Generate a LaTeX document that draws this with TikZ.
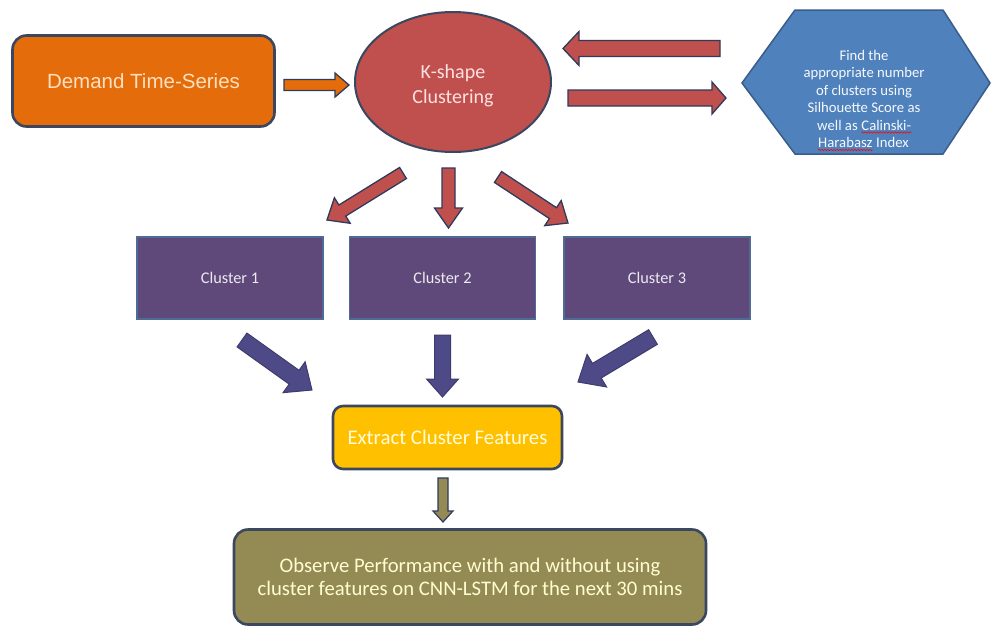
\documentclass[tikz,border=0pt]{standalone}
\usepackage{fontspec}
\setmainfont{Carlito}
\newfontfamily\arialfont{Liberation Sans}
\usetikzlibrary{calc,shapes.geometric,decorations.pathmorphing}
\definecolor{edgedark}{HTML}{3B4760}
\definecolor{arrowedge}{HTML}{2F3B5C}
\definecolor{demandorange}{HTML}{E46C0A}
\definecolor{kred}{HTML}{C0504D}
\definecolor{hexblue}{HTML}{4F81BD}
\definecolor{hexedge}{HTML}{385D8A}
\definecolor{clpurple}{HTML}{5F497A}
\definecolor{cledge}{HTML}{4F6A94}
\definecolor{bluearrow}{HTML}{4E4A88}
\definecolor{featyellow}{HTML}{FFC000}
\definecolor{olive}{HTML}{948A54}
\newcommand{\blockarrow}[6]{%
  \coordinate (bah) at ($(#3)!#6!(#2)$);
  \draw[#1] ($(#2)!#4!90:(#3)$) -- ($(bah)!#4!90:(#3)$) -- ($(bah)!#5!90:(#3)$)
    -- (#3) -- ($(bah)!#5!-90:(#3)$) -- ($(bah)!#4!-90:(#3)$) -- ($(#2)!#4!-90:(#3)$) -- cycle;
}
\tikzset{
  roundbox/.style={draw=edgedark, line width=2.6pt, rounded corners=14pt, inner sep=0pt},
  clusterbox/.style={draw=cledge, line width=1.2pt, fill=clpurple, minimum width=186pt,
    minimum height=82pt, inner sep=0pt, text=white!88!clpurple, font=\fontsize{16.3}{19}\selectfont},
  hexline/.style={inner sep=0pt, anchor=base, text=white!95!hexblue, font=\fontsize{14.7}{17.5}\selectfont},
  spellwave/.style={draw=red, line width=0.6pt, decorate, decoration={snake, segment length=3pt, amplitude=0.7pt}},
  redarrow/.style={fill=kred, draw=arrowedge, line width=1.3pt, line join=miter},
  bluearr/.style={fill=bluearrow, draw=bluearrow!80!black, line width=1pt, line join=miter},
  orangearr/.style={fill=demandorange, draw=arrowedge, line width=1.3pt, line join=miter},
  olivearr/.style={fill=olive, draw=arrowedge, line width=1.2pt, line join=miter},
}
\begin{document}
\begin{tikzpicture}[x=1pt,y=-1pt]
\useasboundingbox[fill=white] (0,0) rectangle (993,627);

% Demand time-series
\node[roundbox, fill=demandorange, minimum width=262pt, minimum height=91pt,
  text=orange!25!white, font=\arialfont\fontsize{20.5}{24}\selectfont] (demand) at (143.5,81) {Demand Time-Series};

% K-shape ellipse
\node[ellipse, draw=edgedark, line width=2pt, fill=kred, minimum width=196pt, minimum height=140pt,
  inner sep=0pt] (kshape) at (453,82) {};
\node[align=center, inner sep=0pt, text=red!12!white, font=\fontsize{20}{25}\selectfont] (kshapetext) at (453,86) {K-shape\\Clustering};

% Hexagon
\coordinate (hx1) at (742,83);
\coordinate (hx2) at (795,10);
\coordinate (hx3) at (943,10);
\coordinate (hx4) at (990,83);
\coordinate (hx5) at (943,154);
\coordinate (hx6) at (795,154);
\draw[fill=hexblue, draw=hexedge, line width=1.5pt] (hx1) -- (hx2) -- (hx3) -- (hx4) -- (hx5) -- (hx6) -- cycle;
\node[hexline] (hl1) at (864,60) {Find the};
\node[hexline] (hl2) at (864,77.5) {appropriate number};
\node[hexline] (hl3) at (864,95) {of clusters using};
\node[hexline] (hl4) at (864,112.5) {Silhouette Score as};
\node[hexline, anchor=base west] (hl5a) at (817,130) {well as};
\node[hexline, anchor=base west] (hl5b) at ([xshift=3.3pt]hl5a.base east) {Calinski-};
\node[hexline, anchor=base west] (hl6a) at (818,147.5) {Harabasz};
\node[hexline, anchor=base west] (hl6b) at ([xshift=3.3pt]hl6a.base east) {Index};
\draw[spellwave] ($(hl5b.base west)+(0,2.5)$) -- ($(hl5b.base east)+(0,2.5)$);
\draw[spellwave] ($(hl6a.base west)+(0,2.5)$) -- ($(hl6a.base east)+(0,2.5)$);

% Clusters
\node[clusterbox] (c1) at (230,278) {Cluster 1};
\node[clusterbox] (c2) at (442.5,278) {Cluster 2};
\node[clusterbox] (c3) at (657,278) {Cluster 3};

% Extract cluster features
\node[roundbox, rounded corners=10pt, fill=featyellow, minimum width=229pt, minimum height=63pt,
  text=yellow!15!white, font=\fontsize{20.8}{24}\selectfont] (feat) at (447.5,437.5) {Extract Cluster Features};

% Observe performance
\node[roundbox, fill=olive, minimum width=472pt, minimum height=95pt, align=center,
  text=yellow!18!white, font=\fontsize{20.7}{23.5}\selectfont] (obs) at (470,577)
  {Observe Performance with and without using\\cluster features on CNN-LSTM for the next 30 mins};

% Arrow end points
\coordinate (oa1) at (284,85);   \coordinate (oa2) at (349,85);
\coordinate (la1) at (720,48.5); \coordinate (la2) at (563,48.5);
\coordinate (ra1) at (568,98);   \coordinate (ra2) at (726,98);
\coordinate (r1a) at (403,173);  \coordinate (r1b) at (327,220);
\coordinate (r2a) at (448.5,168);\coordinate (r2b) at (448.5,228);
\coordinate (r3a) at (498,177);  \coordinate (r3b) at (568,223);
\coordinate (b1a) at (242,340);  \coordinate (b1b) at (312,390);
\coordinate (b2a) at (442.5,335);\coordinate (b2b) at (442.5,397);
\coordinate (b3a) at (653,337);  \coordinate (b3b) at (578,382);
\coordinate (ga) at (443,478);   \coordinate (gb) at (443,522);

\blockarrow{orangearr}{oa1}{oa2}{5.5pt}{12pt}{14pt}
\blockarrow{redarrow}{la1}{la2}{8pt}{17pt}{16pt}
\blockarrow{redarrow}{ra1}{ra2}{8pt}{16pt}{14pt}
\blockarrow{redarrow}{r1a}{r1b}{6.5pt}{15pt}{18pt}
\blockarrow{redarrow}{r2a}{r2b}{6.5pt}{14pt}{20pt}
\blockarrow{redarrow}{r3a}{r3b}{6.5pt}{15pt}{18pt}
\blockarrow{bluearr}{b1a}{b1b}{8.5pt}{19pt}{22pt}
\blockarrow{bluearr}{b2a}{b2b}{8pt}{16pt}{18pt}
\blockarrow{bluearr}{b3a}{b3b}{8.5pt}{19pt}{22pt}
\blockarrow{olivearr}{ga}{gb}{5pt}{10pt}{11pt}
\end{tikzpicture}
\end{document}
